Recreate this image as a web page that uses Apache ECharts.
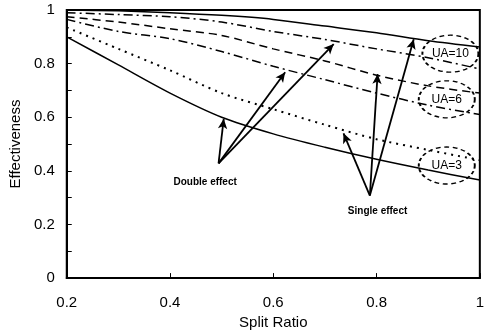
<!DOCTYPE html>
<html>
<head>
<meta charset="utf-8">
<script src="https://cdn.jsdelivr.net/npm/echarts@6/dist/echarts.min.js"></script>
<style>
  html, body { margin: 0; padding: 0; background: #fff; }
  #chart { width: 487px; height: 335px; }
</style>
</head>
<body>
<div id="chart"></div>
<script>
// split ratio (x) and effectiveness curves
var ratio = [0.2, 0.3, 0.4, 0.5, 0.6, 0.7, 0.8, 0.9, 1.0];
var ua10Single = [1.0, 0.997, 0.99, 0.98, 0.965, 0.94, 0.915, 0.885, 0.862];
var ua10Double = [0.99, 0.983, 0.975, 0.955, 0.92, 0.89, 0.855, 0.822, 0.78];
var ua6Single = [0.975, 0.955, 0.93, 0.905, 0.855, 0.81, 0.757, 0.717, 0.69];
var ua6Double = [0.965, 0.92, 0.893, 0.845, 0.79, 0.74, 0.69, 0.645, 0.61];
var ua3Single = [0.935, 0.855, 0.775, 0.69, 0.63, 0.572, 0.518, 0.478, 0.44];
var ua3Double = [0.90, 0.795, 0.69, 0.60, 0.538, 0.488, 0.443, 0.403, 0.366];

// annotations (data coords)
var doubleFrom = [0.494, 0.428];
var doubleTips = [[0.504, 0.594], [0.623, 0.768], [0.717, 0.873]];
var singleFrom = [0.787, 0.308];
var singleTips = [[0.736, 0.54], [0.802, 0.761], [0.872, 0.891]];
var uaLabels = ['UA=10', 'UA=6', 'UA=3'];
var uaPos = [[0.943, 0.837], [0.936, 0.667], [0.936, 0.42]];

var FONT = 'Liberation Sans, Arial, sans-serif';

function pairs(ys) {
  return ratio.map(function (x, i) { return [x, ys[i]]; });
}

function curve(name, ys, dash, w) {
  return {
    name: name,
    type: 'line',
    data: pairs(ys),
    smooth: 0.3,
    showSymbol: false,
    lineStyle: { color: '#000', width: w || 1.5, type: dash },
    z: 3
  };
}

var arrows = [];
doubleTips.forEach(function (t) {
  arrows.push([{ coord: doubleFrom }, { coord: t }]);
});
singleTips.forEach(function (t) {
  arrows.push([{ coord: singleFrom }, { coord: t }]);
});

var ellipses = uaLabels.map(function (n, i) {
  return { name: n, coord: uaPos[i] };
});

var series = [
  curve('UA=10 single', ua10Single, 'solid'),
  curve('UA=10 double', ua10Double, [9, 4, 2, 4]),
  curve('UA=6 single', ua6Single, [8, 5]),
  curve('UA=6 double', ua6Double, [9, 4, 2, 4]),
  curve('UA=3 single', ua3Single, [2, 5], 2),
  curve('UA=3 double', ua3Double, 'solid')
];

series[5].markLine = {
  silent: true,
  symbol: ['none', 'arrow'],
  symbolSize: [7, 10],
  lineStyle: { color: '#000', width: 1.8, type: 'solid' },
  label: { show: false },
  data: arrows
};
series[5].markPoint = {
  silent: true,
  symbol: 'circle',
  symbolSize: [56, 37],
  itemStyle: { color: 'rgba(0,0,0,0)', borderColor: '#000', borderWidth: 1.6, borderType: [4, 3] },
  label: { show: true, position: 'inside', formatter: '{b}', color: '#000', fontSize: 12, fontFamily: FONT },
  data: ellipses
};
series[4].markPoint = {
  silent: true,
  symbol: 'circle',
  symbolSize: 0,
  label: { show: true, position: 'inside', formatter: '{b}', color: '#000', fontSize: 10, fontWeight: 'bold', fontFamily: FONT },
  data: [
    { name: 'Double effect', coord: [0.468, 0.357] },
    { name: 'Single effect', coord: [0.802, 0.25] }
  ]
};

var chart = echarts.init(document.getElementById('chart'));
chart.setOption({
  animation: false,
  backgroundColor: '#fff',
  grid: {
    left: 61, right: 2, top: 10, bottom: 49,
    show: true, borderColor: '#000', borderWidth: 2
  },
  xAxis: {
    type: 'value',
    min: 0.2, max: 1, interval: 0.2,
    name: 'Split Ratio',
    nameLocation: 'middle',
    nameGap: 31,
    nameTextStyle: { color: '#000', fontSize: 15, fontFamily: FONT },
    axisLine: { lineStyle: { color: '#000', width: 2 } },
    axisTick: { inside: true, length: 5, lineStyle: { color: '#000' } },
    axisLabel: { color: '#000', fontSize: 15, margin: 17, fontFamily: FONT },
    splitLine: { show: false }
  },
  yAxis: {
    type: 'value',
    min: 0, max: 1, interval: 0.1,
    name: 'Effectiveness',
    nameLocation: 'middle',
    nameGap: 43,
    nameTextStyle: { color: '#000', fontSize: 15, fontFamily: FONT },
    axisLine: { lineStyle: { color: '#000', width: 2 } },
    axisTick: { inside: true, length: 5, lineStyle: { color: '#000' } },
    axisLabel: {
      color: '#000', fontSize: 15, margin: 12, fontFamily: FONT,
      formatter: function (v) {
        var t = Math.round(v * 10);
        return t % 2 === 0 ? String(t / 10) : '';
      }
    },
    splitLine: { show: false }
  },
  series: series
});
</script>
</body>
</html>
